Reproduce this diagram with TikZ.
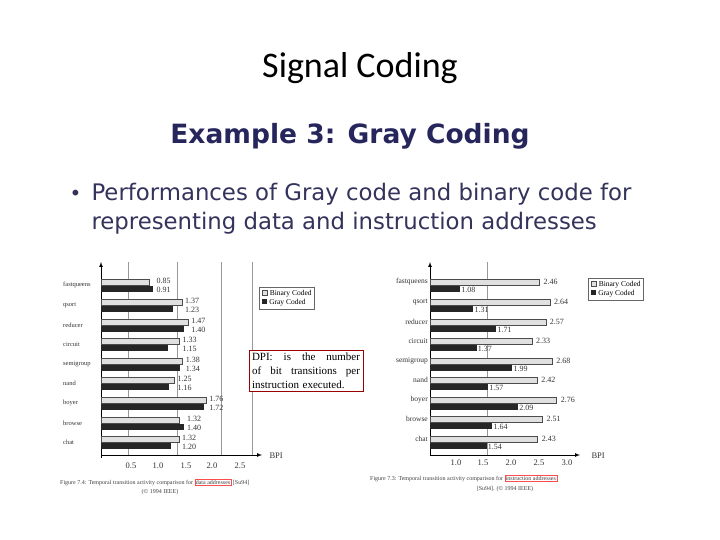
\documentclass[tikz,border=0pt]{standalone}
\usepackage{fontspec}
\setmainfont{Liberation Serif}
\newfontfamily\calfnt{Carlito}
\newfontfamily\dvs{DejaVu Sans}
\begin{document}
\begin{tikzpicture}[x=1pt,y=-1pt,
  binbar/.style={draw=black!70,fill=black!12,line width=0.5pt},
  graybar/.style={fill=black!85},
  val/.style={font=\fontsize{8}{8}\selectfont,inner sep=1pt,anchor=west,text=black!80},
  cat/.style={font=\fontsize{7.5}{8}\selectfont,inner sep=1pt,anchor=east,text=black!80},
  tick/.style={font=\fontsize{8.5}{9}\selectfont,text=black!80},
  grid/.style={black!40,line width=0.4pt},
  figcap/.style={font=\fontsize{6}{7}\selectfont,text=black!75,inner sep=0pt}]
\useasboundingbox (0,0) rectangle (720,540);
\fill[white] (0,0) rectangle (720,540);
\node (title) at (360,68) {\calfnt\fontsize{36}{40}\selectfont Signal Coding};
\node[text=blue!25!black!85,font={\dvs\bfseries\fontsize{26.5}{30}\selectfont}] (ex) at (350,136) {Example 3: Gray Coding};
\node[anchor=west,text=blue!20!black!80,font={\dvs\fontsize{20}{24}\selectfont}] (b) at (66,195) {•};
\node[anchor=west,text=blue!20!black!80,align=left,font={\dvs\fontsize{22.8}{29}\selectfont}] (bt) at (88,209) {Performances of Gray code and binary code for\\ representing data and instruction addresses};
% ---------- left chart
\coordinate (la0) at (101,458);
\coordinate (la1) at (101,262);
\coordinate (lx1) at (262,455);
\foreach \v in {0.5,1.3,2.0,2.5} \draw[grid] ({97+62*\v},262) -- ({97+62*\v},455);
\draw[-latex,line width=0.7pt] (la0) -- (la1);
\draw[-latex,line width=0.7pt] (101,455) -- (lx1);
\node[tick,anchor=west] (lbpi) at (266,456) {BPI};
\foreach \t/\x in {0.5/131,1.0/158,1.5/186,2.0/212,2.5/240} \node[tick] at (\x,466) {\t};
\foreach \n/\y/\bb/\gg in {fastqueens/286/0.85/0.91,qsort/306/1.37/1.23,reducer/326/1.47/1.40,circuit/345/1.33/1.15,semigroup/365/1.38/1.34,nand/384/1.25/1.16,boyer/404/1.76/1.72,browse/424/1.32/1.40,chat/443/1.32/1.20}{
  \fill[binbar] (101,\y-7) rectangle ({97+62*\bb},\y-1);
  \fill[graybar] (101,\y) rectangle ({97+62*\gg},\y+6);
  \node[val] at ({99+62*max(\bb,\gg)},\y-5) {\bb};
  \node[val] at ({99+62*max(\bb,\gg)},\y+4) {\gg};
  \node[cat,anchor=west,font=\fontsize{6.5}{7}\selectfont] at (62,\y-1) {\n};
}
\node[draw=black!60,line width=0.5pt,inner sep=3pt,align=left,fill=white,font=\fontsize{7.5}{9}\selectfont] (lleg) at (287,298)
 {\tikz[x=1pt,y=1pt]\filldraw[binbar](0,0) rectangle (5,5); Binary Coded\\ \tikz[x=1pt,y=1pt]\fill[graybar](0,0) rectangle (5,5); Gray Coded};
\node[draw=red!60!black,line width=0.8pt,fill=white,text width=108pt,inner sep=3pt,font=\fontsize{11}{14}\selectfont] (dpi) at (306,371)
 {DPI:\hfill is\hfill the\hfill number\\ of\hfill bit\hfill transitions\hfill per\\ instruction executed.};
\node[figcap,anchor=west] (lcap) at (60,482) {Figure 7.4: Temporal transition activity comparison for \tikz[baseline]\node[draw=red!70,inner sep=1pt,anchor=base]{data addresses}; [Su94]};
\node[figcap] (lcap2) at (160,492) {(© 1994 IEEE)};
% ---------- right chart
\coordinate (ra0) at (430,456);
\coordinate (ra1) at (430,262);
\coordinate (rx1) at (580,455);
\draw[grid] (487,262) -- (487,455);
\draw[-latex,line width=0.7pt] (ra0) -- (ra1);
\draw[-latex,line width=0.7pt] (430,455) -- (rx1);
\node[tick,anchor=west] (rbpi) at (588,456) {BPI};
\foreach \t/\x in {1.0/456,1.5/483,2.0/511,2.5/539,3.0/567} \node[tick] at (\x,463) {\t};
\foreach \n/\y/\bb/\gg in {fastqueens/282/2.46/1.08,qsort/302/2.64/1.31,reducer/322/2.57/1.71,circuit/341/2.33/1.37,semigroup/361/2.68/1.99,nand/380/2.42/1.57,boyer/400/2.76/2.09,browse/419/2.51/1.64,chat/439/2.43/1.54}{
  \fill[binbar] (430,\y-3) rectangle ({398+57.5*\bb},\y+3);
  \fill[graybar] (430,\y+4) rectangle ({398+57.5*\gg},\y+10);
  \node[val] at ({401+57.5*\bb},\y) {\bb};
  \node[val] at ({398+57.5*\gg},\y+8) {\gg};
  \node[cat] at (429,\y) {\n};
}
\node[draw=black!60,line width=0.5pt,inner sep=3pt,align=left,fill=white,font=\fontsize{7.5}{9}\selectfont] (rleg) at (616,289)
 {\tikz[x=1pt,y=1pt]\filldraw[binbar](0,0) rectangle (5,5); Binary Coded\\ \tikz[x=1pt,y=1pt]\fill[graybar](0,0) rectangle (5,5); Gray Coded};
\node[figcap,anchor=west] (rcap) at (370,478) {Figure 7.3: Temporal transition activity comparison for \tikz[baseline]\node[draw=red!70,inner sep=1pt,anchor=base]{instruction addresses}; };
\node[figcap] (rcap2) at (505,489) {[Su94]. (© 1994 IEEE)};
\end{tikzpicture}
\end{document}
